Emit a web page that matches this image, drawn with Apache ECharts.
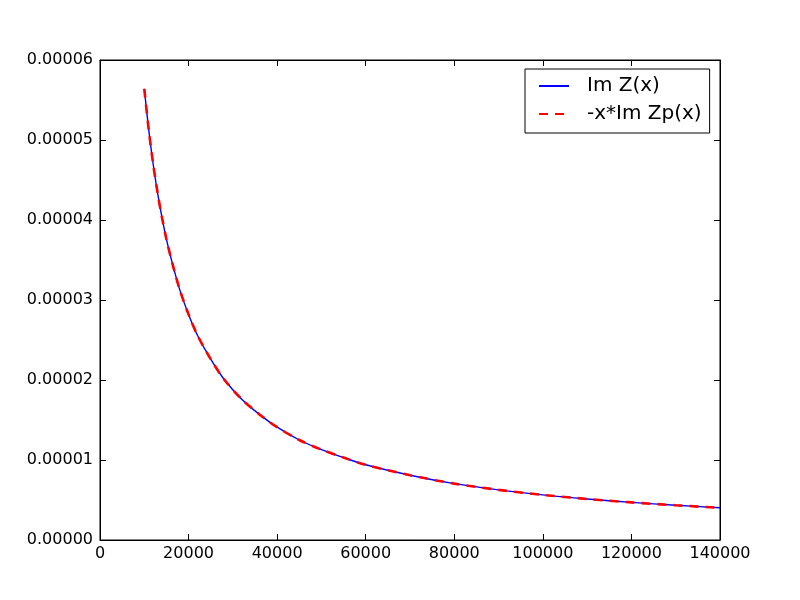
<!DOCTYPE html>
<html>
<head>
<meta charset="utf-8">
<script src="https://cdn.jsdelivr.net/npm/echarts@6/dist/echarts.min.js"></script>
<style>
  html, body { margin: 0; padding: 0; background: #fff; }
  #chart { width: 800px; height: 600px; }
</style>
</head>
<body>
<div id="chart"></div>
<script>
// x positions
var xValues = [10000, 11000, 12000, 13000, 14000, 15000, 16000, 18000, 20000, 22000,
  25000, 28000, 32000, 36000, 40000, 45000, 50000, 55000, 60000, 70000,
  80000, 90000, 100000, 110000, 120000, 130000, 140000];
// Im Z(x)
var imZ = [5.64e-5, 5.13e-5, 4.70e-5, 4.34e-5, 4.03e-5, 3.76e-5, 3.53e-5, 3.13e-5, 2.82e-5, 2.56e-5,
  2.26e-5, 2.01e-5, 1.76e-5, 1.57e-5, 1.41e-5, 1.25e-5, 1.13e-5, 1.03e-5, 0.94e-5, 0.81e-5,
  0.705e-5, 0.627e-5, 0.564e-5, 0.513e-5, 0.47e-5, 0.434e-5, 0.403e-5];
// -x*Im Zp(x), overlaps the first curve
var xImZp = [5.64e-5, 5.13e-5, 4.70e-5, 4.34e-5, 4.03e-5, 3.76e-5, 3.53e-5, 3.13e-5, 2.82e-5, 2.56e-5,
  2.26e-5, 2.01e-5, 1.76e-5, 1.57e-5, 1.41e-5, 1.25e-5, 1.13e-5, 1.03e-5, 0.94e-5, 0.81e-5,
  0.705e-5, 0.627e-5, 0.564e-5, 0.513e-5, 0.47e-5, 0.434e-5, 0.403e-5];
var seriesNames = ['Im Z(x)', '-x*Im Zp(x)'];
var xTicks = { min: 0, max: 140000, interval: 20000 };
var yTicks = { min: 0, max: 0.00006, interval: 0.00001 };

function pairs (ys) {
  var out = []
  for (var i = 0; i < xValues.length; i++) {
    out.push([xValues[i], ys[i]])
  }
  return out
}

var font = 'DejaVu Sans';
var chart = echarts.init(document.getElementById('chart'));

function axisBase (pos, showLabel, fmt) {
  return {
    type: 'value',
    position: pos,
    splitLine: { show: false },
    axisLine: { show: true, onZero: false, lineStyle: { color: '#000', width: 1 } },
    axisTick: { show: true, inside: true, length: 6, lineStyle: { color: '#000', width: 1 } },
    axisLabel: {
      show: showLabel,
      color: '#000',
      fontFamily: font,
      fontSize: 16,
      formatter: fmt
    }
  }
}

var xBottom = Object.assign(axisBase('bottom', true, function (v) { return String(v) }), xTicks);
xBottom.axisLabel.margin = 6;
var xTop = Object.assign(axisBase('top', false), xTicks);
var yLeft = Object.assign(axisBase('left', true, function (v) { return v.toFixed(5) }), yTicks);
yLeft.axisLabel.margin = 7;
var yRight = Object.assign(axisBase('right', false), yTicks);

chart.setOption({
  animation: false,
  backgroundColor: '#fff',
  grid: {
    left: 100, right: 80, top: 60, bottom: 60,
    show: true, borderColor: '#000', borderWidth: 1, backgroundColor: '#fff'
  },
  legend: {
    left: 525,
    top: 69,
    orient: 'vertical',
    data: seriesNames,
    backgroundColor: '#fff',
    borderColor: '#000',
    borderWidth: 1,
    borderRadius: 0,
    padding: [7, 8, 9, 13],
    itemGap: 8,
    itemWidth: 30,
    itemHeight: 20,
    itemStyle: { opacity: 0 },
    textStyle: {
      fontFamily: font,
      fontSize: 20,
      lineHeight: 20,
      color: '#000',
      padding: [0, 0, 0, 13]
    }
  },
  xAxis: [xBottom, xTop],
  yAxis: [yLeft, yRight],
  series: [{
    name: seriesNames[0],
    type: 'line',
    xAxisIndex: 0,
    yAxisIndex: 0,
    data: pairs(imZ),
    smooth: 0.3,
    symbol: 'none',
    color: '#0000ff',
    lineStyle: { color: '#0000ff', width: 1.4 }
  }, {
    name: seriesNames[1],
    type: 'line',
    xAxisIndex: 0,
    yAxisIndex: 0,
    data: pairs(xImZp),
    smooth: 0.3,
    symbol: 'none',
    color: '#ff0000',
    lineStyle: { color: '#ff0000', width: 2.6, type: [9, 7] }
  }]
});
</script>
</body>
</html>
